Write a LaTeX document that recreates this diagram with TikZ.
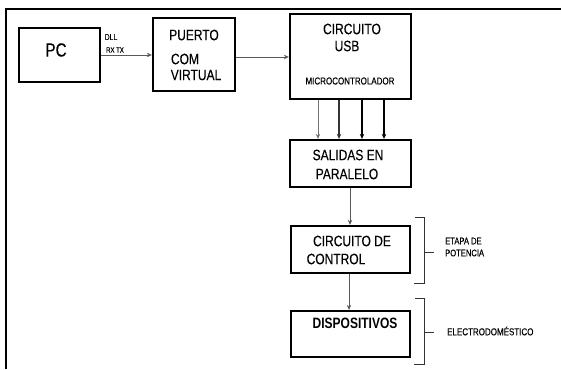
\documentclass[tikz,border=0pt]{standalone}
\usepackage{fontspec}
\setmainfont{Liberation Sans}[FakeStretch=0.8]
\newfontfamily\heavy{Liberation Sans}[FakeStretch=0.8,UprightFeatures={FakeBold=0.3}]
\usetikzlibrary{arrows.meta}
\begin{document}
\begin{tikzpicture}[x=1pt,y=-1pt,
  blk/.style={draw=black,line width=2.3pt,fill=white,inner sep=0pt},
  lbl/.style={inner sep=0pt,font=\heavy\fontsize{15}{16}\selectfont},
  small/.style={inner sep=0pt,font=\heavy\fontsize{10}{11}\selectfont},
  tiny/.style={inner sep=0pt,font=\heavy\fontsize{8.5}{9}\selectfont},
  conn/.style={draw=black!65,line width=0.9pt,-{Stealth[length=5pt,width=4.5pt]}},
  brk/.style={draw=black!80,line width=0.9pt}]
\useasboundingbox (0,0) rectangle (561,369);
\fill[white] (0,0) rectangle (561,369);
% frame
\draw[line width=1.8pt] (6,369) -- (6,9) -- (561,9);
% boxes
\node[blk,minimum width=81pt,minimum height=54pt] (pc) at (59.5,55) {};
\node[blk,minimum width=82pt,minimum height=73pt] (puerto) at (194,54.5) {};
\node[blk,minimum width=121pt,minimum height=85pt] (usb) at (350.5,56.5) {};
\node[blk,minimum width=121pt,minimum height=47pt] (sal) at (350.5,163.5) {};
\node[blk,minimum width=119pt,minimum height=47pt] (ctrl) at (350.5,249.5) {};
\node[blk,minimum width=119pt,minimum height=46pt] (disp) at (350.5,334) {};
% texts
\node[inner sep=0pt,font=\heavy\fontsize{19}{20}\selectfont] (tpc) at (56,50) {PC};
\node[lbl] (t1) at (194,35) {PUERTO};
\node[lbl] (t2) at (185,59) {COM};
\node[lbl] (t3) at (196,75) {VIRTUAL};
\node[lbl] (t4) at (352,29) {CIRCUITO};
\node[lbl] (t5) at (347,46) {USB};
\node[small] (t6) at (350,81) {MICROCONTROLADOR};
\node[lbl] (t7) at (348,155) {SALIDAS EN};
\node[lbl] (t8) at (347,174) {PARALELO};
\node[lbl] (t9) at (352,241) {CIRCUITO DE};
\node[lbl] (t10) at (336,259) {CONTROL};
\node[inner sep=0pt,font=\fontsize{15}{16}\selectfont\bfseries] (t11) at (355,323) {DISPOSITIVOS};
\node[tiny] (dll) at (111,37) {DLL};
\node[tiny,font=\heavy\fontsize{7.5}{8}\selectfont] (rxtx) at (115,50) {RX TX};
\node[small,font=\heavy\fontsize{9.5}{10}\selectfont,anchor=west] (et1) at (445,241) {ETAPA DE};
\node[small,font=\heavy\fontsize{9.5}{10}\selectfont,anchor=west] (et2) at (445,253) {POTENCIA};
\node[small,anchor=west] (elec) at (447,331) {ELECTRODOMÉSTICO};
% connectors
\draw[conn] (pc.east |- 0,55) -- (puerto.west |- 0,55);
\draw[conn] (puerto.east |- 0,57) -- (usb.west |- 0,57);
\draw[conn,draw=black!55,line width=0.8pt] ([xshift=-32.5pt]usb.south) -- ([xshift=-32.5pt]sal.north);
\draw[conn,draw=black!80,line width=1.3pt] ([xshift=-11.5pt]usb.south) -- ([xshift=-11.5pt]sal.north);
\draw[conn,draw=black,line width=1.8pt] ([xshift=11.5pt]usb.south) -- ([xshift=11.5pt]sal.north);
\draw[conn,draw=black,line width=2.3pt] ([xshift=33.5pt]usb.south) -- ([xshift=33.5pt]sal.north);
\draw[conn] ([xshift=-0.5pt]sal.south) -- ([xshift=-0.5pt]ctrl.north);
\draw[conn] ([xshift=-1.5pt]ctrl.south) -- ([xshift=-1.5pt]disp.north);
% brackets
\draw[brk] (415,217) -- (424,217) -- (424,283) -- (414,283);
\draw[brk] (424,252) -- (434,252);
\draw[brk] (415,298) -- (424,298) -- (424,364) -- (414,364);
\draw[brk] (424,332) -- (434,332);
\end{tikzpicture}
\end{document}
